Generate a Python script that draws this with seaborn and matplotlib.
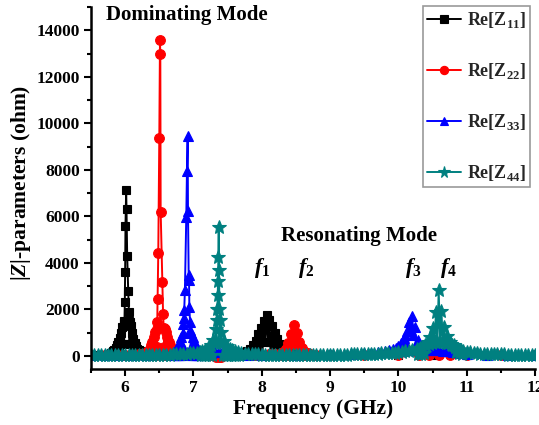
import matplotlib
matplotlib.use("Agg")
import matplotlib.pyplot as plt
import seaborn as sns
from matplotlib.ticker import MultipleLocator

# ---------------- data ----------------
# Re[Z11] (black): dense sweep, base of the dominating peak and f1 appear filled
x11 = ([5.5, 5.6, 5.7, 5.75, 5.8]
       + [5.82, 5.83, 5.84, 5.85, 5.86, 5.87, 5.88, 5.89, 5.9, 5.91,
          5.92, 5.93, 5.94, 5.95, 5.96, 5.97, 5.98, 5.985]
       + [5.99, 5.995, 6.0, 6.005, 6.015, 6.02, 6.03, 6.045, 6.055, 6.06]
       + [6.065, 6.07, 6.075, 6.08, 6.09, 6.1, 6.11, 6.12, 6.13, 6.14,
          6.15, 6.16, 6.17, 6.18, 6.19, 6.2, 6.21, 6.22]
       + [6.25, 6.3, 6.4, 6.5, 6.6, 6.7, 6.8, 6.9, 7.0, 7.1, 7.2, 7.3,
          7.4, 7.5, 7.6, 7.7]
       + [7.75, 7.77, 7.79, 7.81, 7.83, 7.85, 7.87, 7.89, 7.91, 7.93,
          7.95, 7.97, 7.99, 8.01, 8.03, 8.05, 8.07, 8.09, 8.11, 8.13,
          8.15, 8.17, 8.19, 8.21, 8.23, 8.25, 8.27, 8.29, 8.31, 8.33, 8.35]
       + [8.4, 8.45, 8.5, 8.6, 8.8, 9.0, 9.5, 10.0, 10.5, 11.0, 11.5, 12.0])
y11 = ([30, 40, 60, 90, 140]
       + [200, 30, 260, 30, 340, 35, 450, 35, 600, 40,
          780, 45, 1000, 50, 1250, 60, 1450, 500]
       + [1500, 2300, 3620, 5600, 7150, 6300, 4310, 2800, 1870, 1500]
       + [500, 1450, 60, 1300, 50, 1000, 45, 750, 40, 560,
          40, 420, 35, 320, 35, 250, 35, 200]
       + [140, 100, 70, 55, 45, 40, 35, 35, 40, 45, 55, 65,
          70, 80, 90, 110]
       + [150, 40, 210, 40, 300, 45, 450, 45, 660, 50,
          930, 50, 1220, 60, 1520, 600, 1750, 600, 1550, 60,
          1270, 50, 980, 45, 720, 45, 500, 40, 340, 40, 220]
       + [140, 100, 80, 55, 45, 40, 35, 35, 35, 30, 30, 30])

# Re[Z22] (red)
x22 = ([5.5, 5.7, 5.9, 6.0, 6.1, 6.2, 6.25, 6.3]
       + [6.32, 6.33, 6.34, 6.35, 6.36, 6.37, 6.38, 6.39, 6.4, 6.41,
          6.42, 6.43, 6.44, 6.45, 6.46, 6.465]
       + [6.47, 6.475, 6.485, 6.5, 6.51, 6.515, 6.52, 6.545, 6.555, 6.565]
       + [6.57, 6.58, 6.59, 6.6, 6.61, 6.62, 6.63, 6.64, 6.65, 6.66,
          6.67, 6.68, 6.69, 6.7, 6.71, 6.72]
       + [6.75, 6.8, 6.85, 6.95, 7.1, 7.25, 7.33, 7.37, 7.41, 7.5,
          7.7, 7.9, 8.1, 8.2]
       + [8.27, 8.29, 8.31, 8.33, 8.35, 8.37, 8.39, 8.41, 8.43, 8.45,
          8.47, 8.49, 8.51, 8.53, 8.55, 8.57, 8.59, 8.61, 8.63, 8.65,
          8.67, 8.69, 8.71]
       + [8.8, 9.0, 9.5, 10.0, 10.3, 10.45, 10.6, 10.75, 11.0, 11.5, 12.0])
y22 = ([20, 25, 35, 45, 60, 80, 100, 130]
       + [170, 30, 230, 30, 320, 35, 450, 40, 620, 45,
          830, 50, 1020, 60, 1150, 400]
       + [1470, 2440, 4410, 9380, 13590, 12970, 6200, 3160, 1820, 1200]
       + [400, 1150, 60, 1020, 50, 830, 45, 620, 40, 450,
          35, 320, 30, 230, 30, 170]
       + [130, 95, 70, 50, 35, 20, -30, -60, -30, 20,
          40, 60, 80, 95]
       + [100, 40, 160, 40, 300, 45, 560, 50, 950, 500,
          1350, 500, 980, 50, 600, 45, 330, 40, 190, 40,
          120, 40, 90]
       + [60, 45, 30, 40, 50, 40, 30, 40, 35, 30, 25])

# Re[Z33] (blue)
x33 = ([5.5, 5.7, 5.9, 6.1, 6.3, 6.5, 6.6, 6.7]
       + [6.72, 6.73, 6.74, 6.75, 6.76, 6.77, 6.78, 6.79, 6.8, 6.81,
          6.82, 6.83, 6.84, 6.845]
       + [6.85, 6.855, 6.865, 6.875, 6.895, 6.905, 6.915, 6.92, 6.93,
          6.935, 6.94, 6.95, 6.955]
       + [6.96, 6.97, 6.98, 6.99, 7.0, 7.01, 7.02, 7.03, 7.04, 7.05,
          7.06, 7.07, 7.08, 7.09]
       + [7.12, 7.18, 7.25, 7.32, 7.37, 7.42, 7.5, 7.6, 7.8, 8.0,
          8.5, 9.0, 9.3, 9.5, 9.6, 9.7, 9.8, 9.86]
       + [9.9, 9.92, 9.94, 9.96, 9.98, 10.0, 10.02, 10.04, 10.06, 10.08,
          10.1, 10.12, 10.14, 10.16, 10.18, 10.2, 10.22, 10.24, 10.26,
          10.28, 10.3, 10.32, 10.34, 10.36, 10.38, 10.4]
       + [10.45, 10.5, 10.55, 10.6, 10.65, 10.7, 10.75, 10.8, 10.85,
          10.9, 11.0, 11.3, 11.6, 12.0])
y33 = ([20, 25, 30, 40, 50, 70, 90, 140]
       + [190, 30, 260, 35, 350, 40, 470, 45, 620, 50,
          800, 60, 1000, 400]
       + [1390, 1620, 1980, 2840, 5970, 7940, 9450, 6220, 3490,
          3270, 2110, 1470, 1110]
       + [400, 1000, 60, 800, 50, 620, 45, 470, 40, 350,
          35, 260, 30, 190]
       + [150, 130, 120, 170, 230, 170, 110, 70, 50, 45,
          50, 70, 90, 110, 130, 170, 220, 260]
       + [200, 290, 200, 340, 210, 420, 220, 560, 230, 760,
          240, 1060, 260, 1450, 1100, 1730, 900, 1250, 260,
          700, 250, 420, 250, 300, 250, 260]
       + [250, 250, 250, 240, 230, 220, 200, 180, 150,
          120, 90, 60, 40, 30])

# Re[Z44] (teal)
x44 = ([5.5, 5.55, 5.6, 5.65, 5.7, 5.75, 5.8, 5.85, 5.9, 5.95,
        6.0, 6.05, 6.1, 6.15, 6.2, 6.25, 6.3, 6.35, 6.4, 6.45,
        6.5, 6.55, 6.6, 6.65, 6.7, 6.75, 6.8, 6.85, 6.9, 6.95,
        7.0, 7.05]
       + [7.09, 7.11, 7.13, 7.15, 7.17, 7.19, 7.21, 7.23, 7.25, 7.27,
          7.29, 7.31, 7.33, 7.335]
       + [7.34, 7.35, 7.355, 7.36, 7.365, 7.37, 7.375, 7.38, 7.385]
       + [7.395, 7.41, 7.43, 7.45, 7.47, 7.49, 7.51, 7.53, 7.55, 7.57,
          7.59, 7.61, 7.63, 7.65, 7.67, 7.69]
       + [7.75, 7.8, 7.85, 7.9, 7.95, 8.0, 8.05, 8.1, 8.15, 8.2,
          8.25, 8.3, 8.35, 8.4, 8.45, 8.5, 8.55, 8.6, 8.65, 8.7,
          8.75, 8.8, 8.85, 8.9, 8.95, 9.0, 9.05, 9.1, 9.15, 9.2,
          9.25, 9.3, 9.35, 9.4, 9.45, 9.5, 9.55, 9.6, 9.65, 9.7,
          9.75, 9.8, 9.85, 9.9, 9.95, 10.0, 10.05, 10.1, 10.15, 10.2]
       + [10.27, 10.29, 10.31, 10.33, 10.35, 10.37, 10.39, 10.41, 10.43,
          10.45, 10.47, 10.49, 10.51, 10.53, 10.55, 10.57, 10.59, 10.61,
          10.63, 10.65, 10.67, 10.69, 10.71, 10.73, 10.75, 10.77, 10.79,
          10.81, 10.83, 10.85, 10.87, 10.89, 10.91, 10.93, 10.95]
       + [11.0, 11.05, 11.1, 11.15, 11.2, 11.25, 11.3, 11.35, 11.4, 11.45,
          11.5, 11.55, 11.6, 11.65, 11.7, 11.75, 11.8, 11.85, 11.9, 11.95,
          12.0])
y44 = ([20, 20, 22, 22, 24, 24, 26, 26, 28, 28,
        30, 30, 32, 34, 36, 38, 40, 42, 45, 48,
        50, 54, 58, 62, 68, 75, 82, 90, 100, 110,
        125, 145]
       + [160, 40, 200, 45, 250, 50, 330, 55, 450, 60,
          700, 550, 1150, 550]
       + [1540, 2040, 2640, 3220, 4270, 5560, 3690, 2040, 1540]
       + [550, 1030, 60, 650, 55, 440, 50, 320, 45, 250,
          45, 200, 40, 160, 40, 130]
       + [95, 85, 78, 72, 66, 62, 58, 55, 52, 50,
          48, 46, 45, 44, 43, 42, 42, 42, 42, 42,
          43, 44, 45, 46, 48, 50, 52, 54, 56, 58,
          61, 64, 67, 70, 74, 78, 83, 88, 94, 100,
          108, 116, 125, 135, 147, 160, 178, 200, 225, 255]
       + [300, 90, 340, 100, 400, 120, 480, 450, 600,
          520, 800, 570, 1200, 590, 1900, 600, 2840, 600,
          1950, 590, 1250, 570, 850, 550, 620, 520, 480,
          450, 390, 150, 320, 110, 260, 100, 210]
       + [175, 150, 130, 115, 105, 95, 88, 82, 76, 71,
          67, 63, 60, 57, 54, 52, 50, 48, 46, 44,
          42])

labels = [r'Re$\left[\mathrm{Z}_{\mathrm{11}}\right]$',
          r'Re$\left[\mathrm{Z}_{\mathrm{22}}\right]$',
          r'Re$\left[\mathrm{Z}_{\mathrm{33}}\right]$',
          r'Re$\left[\mathrm{Z}_{\mathrm{44}}\right]$']
peak_labels = [r'$\mathit{f_{1}}$', r'$\mathit{f_{2}}$',
               r'$\mathit{f_{3}}$', r'$\mathit{f_{4}}$']

# ---------------- style ----------------
sns.set_theme(style="ticks")
plt.rcParams['font.family'] = ['Liberation Serif', 'DejaVu Serif']
plt.rcParams['font.weight'] = 'bold'
plt.rcParams['axes.labelweight'] = 'bold'
plt.rcParams['mathtext.fontset'] = 'custom'
plt.rcParams['mathtext.rm'] = 'Liberation Serif:bold'
plt.rcParams['mathtext.it'] = 'Liberation Serif:italic:bold'
plt.rcParams['mathtext.bf'] = 'Liberation Serif:bold'

fig = plt.figure(figsize=(5.39, 4.25), dpi=100)
ax = fig.add_axes([0.1688, 0.1318, 0.8238, 0.8517])

styles = [
    (x11, y11, '#000000', 's', 6.0),
    (x22, y22, '#FF0000', 'o', 7.0),
    (x33, y33, '#0000FF', '^', 7.5),
    (x44, y44, '#008080', '*', 10.0),
]
for (xs, ys, col, mk, ms), lab in zip(styles, labels):
    sns.lineplot(x=xs, y=ys, ax=ax, color=col, marker=mk, markersize=ms,
                 markeredgewidth=0.8, markeredgecolor=col, linewidth=1.4,
                 sort=False, estimator=None, label=lab)

ax.set_xlim(5.5, 12)
ax.set_ylim(-560, 15000)
ax.xaxis.set_major_locator(MultipleLocator(1))
ax.xaxis.set_minor_locator(MultipleLocator(0.5))
ax.yaxis.set_major_locator(MultipleLocator(2000))
ax.yaxis.set_minor_locator(MultipleLocator(1000))
sns.despine(ax=ax)
for s in ('left', 'bottom'):
    ax.spines[s].set_linewidth(1.8)
    ax.spines[s].set_color('black')
ax.tick_params(which='major', direction='out', length=5, width=1.5,
               labelsize=12.5, colors='black', pad=3)
ax.tick_params(which='minor', direction='out', length=3, width=1.5,
               colors='black')

ax.set_xlabel('Frequency (GHz)', fontsize=15.5, fontweight='bold',
              color='black', labelpad=2)
ax.set_ylabel(r'|$\mathit{Z}$|-parameters (ohm)', fontsize=15.5,
              fontweight='bold', color='black')
ax.yaxis.set_label_coords(-0.13, 0.514)

ax.text(6.9, 14650, 'Dominating Mode', ha='center', va='center',
        fontsize=15, fontweight='bold', color='black')
ax.text(9.43, 5170, 'Resonating Mode', ha='center', va='center',
        fontsize=15, fontweight='bold', color='black')
for px, lab in zip([8.0, 8.65, 10.22, 10.73], peak_labels):
    ax.text(px, 3790, lab, ha='center', va='center', fontsize=16,
            color='black')

leg = ax.legend(loc='upper right', bbox_to_anchor=(0.989, 1.003),
                fontsize=13, frameon=True, fancybox=False,
                edgecolor='#808080', handlelength=1.9, handletextpad=0.3,
                borderpad=0.25, labelspacing=1.7, borderaxespad=0,
                markerscale=0.85)
leg.get_frame().set_linewidth(1.2)

fig.savefig('out.png', dpi=100)
